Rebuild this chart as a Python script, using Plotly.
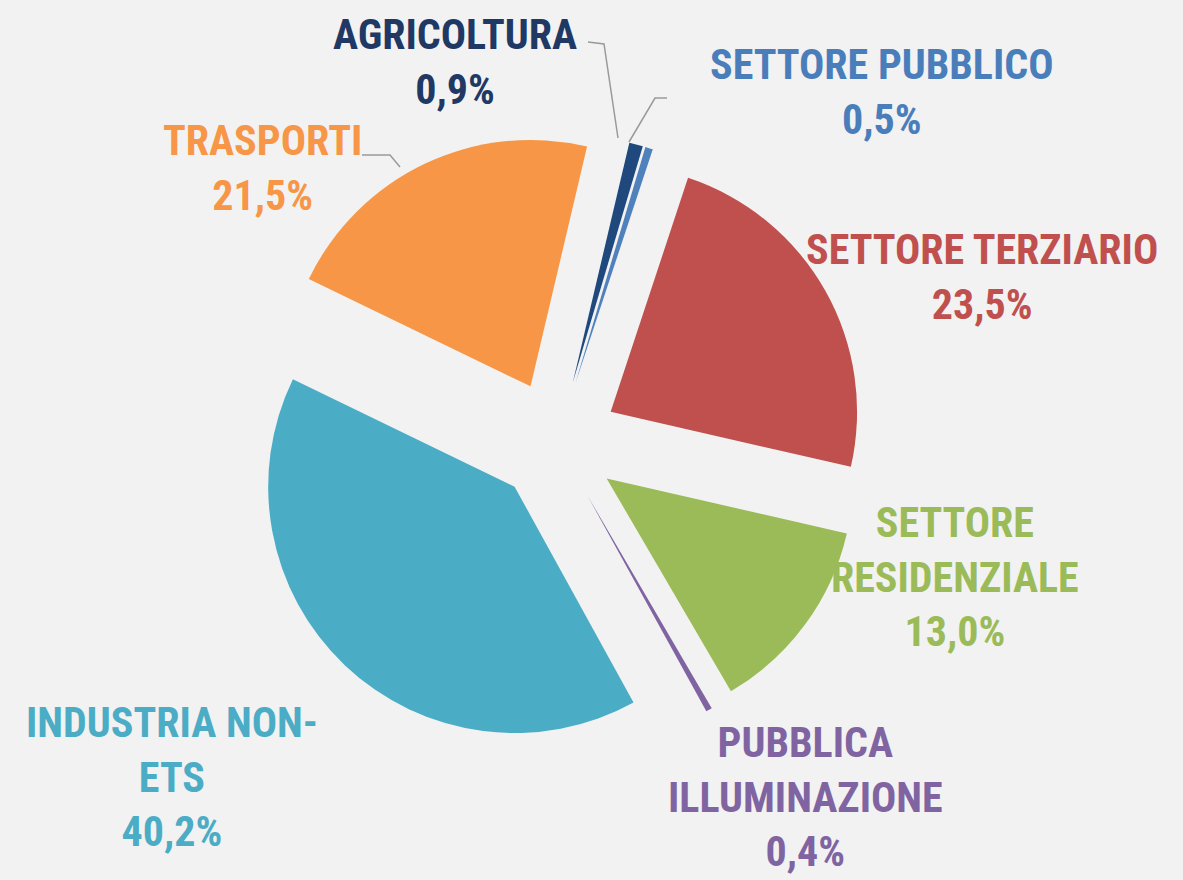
import plotly.graph_objects as go

W, H = 1183, 880

labels = ["SETTORE PUBBLICO", "SETTORE TERZIARIO", "SETTORE RESIDENZIALE",
          "PUBBLICA ILLUMINAZIONE", "INDUSTRIA NON-ETS", "TRASPORTI", "AGRICOLTURA"]
values = [0.5, 23.5, 13.0, 0.4, 40.2, 21.5, 0.9]
display_labels = ["SETTORE PUBBLICO", "SETTORE TERZIARIO", "SETTORE<br>RESIDENZIALE",
                  "PUBBLICA<br>ILLUMINAZIONE", "INDUSTRIA NON-<br>ETS", "TRASPORTI", "AGRICOLTURA"]
slice_colors = ["#4f81bd", "#c0504d", "#9bbb59", "#8064a2", "#4bacc6", "#f79646", "#1f497d"]
text_colors = ["#4a7ebb", "#c0504d", "#9bbb59", "#8064a2", "#4bacc6", "#f79646", "#1f3864"]

# label centres in pixels (layout only)
label_pos = [(882, 92), (982, 277), (955, 577), (805, 797), (172, 777), (262, 168), (455, 62)]

def px(x, y):
    return x / W, 1 - y / H

FONT = "Roboto Condensed, Liberation Sans Narrow, Arial Narrow, Roboto, sans-serif"

fig = go.Figure()
fig.add_trace(go.Pie(
    labels=labels,
    values=values,
    sort=False,
    direction="clockwise",
    rotation=16.5,
    pull=[0.25] * len(values),
    marker=dict(colors=slice_colors, line=dict(width=0)),
    textinfo="none",
    hoverinfo="label+percent",
    showlegend=False,
    domain=dict(x=[(557 - 308) / W, (557 + 308) / W], y=[(880 - 442 - 308) / H, (880 - 442 + 308) / H]),
))

annotations = []
for name, v, c, (lx, ly) in zip(display_labels, values, text_colors, label_pos):
    x, y = px(lx, ly)
    pct = f"{v:.1f}".replace(".", ",") + "%"
    annotations.append(dict(
        x=x, y=y, xref="paper", yref="paper", xanchor="center", yanchor="middle",
        text=f"<b>{name}<br>{pct}</b>", showarrow=False, align="center",
        font=dict(family=FONT, size=42, color=c),
    ))

leader_lines = [
    [(588, 42), (604, 44), (618, 138)],
    [(667, 98), (655, 98), (629, 142)],
    [(362, 155), (390, 155), (400, 167)],
]
shapes = []
for pts in leader_lines:
    path = "M " + " L ".join(f"{px(a, b)[0]},{px(a, b)[1]}" for a, b in pts)
    shapes.append(dict(type="path", xref="paper", yref="paper", path=path,
                       line=dict(color="#9a9a9a", width=1.5)))

fig.update_layout(
    width=W, height=H,
    margin=dict(l=0, r=0, t=0, b=0),
    paper_bgcolor="#f2f2f2",
    plot_bgcolor="#f2f2f2",
    annotations=annotations,
    shapes=shapes,
)

fig.write_html("out.html",
               config={"displayModeBar": False},
               post_script="document.body.style.margin='0';document.body.style.background='#f2f2f2';")
